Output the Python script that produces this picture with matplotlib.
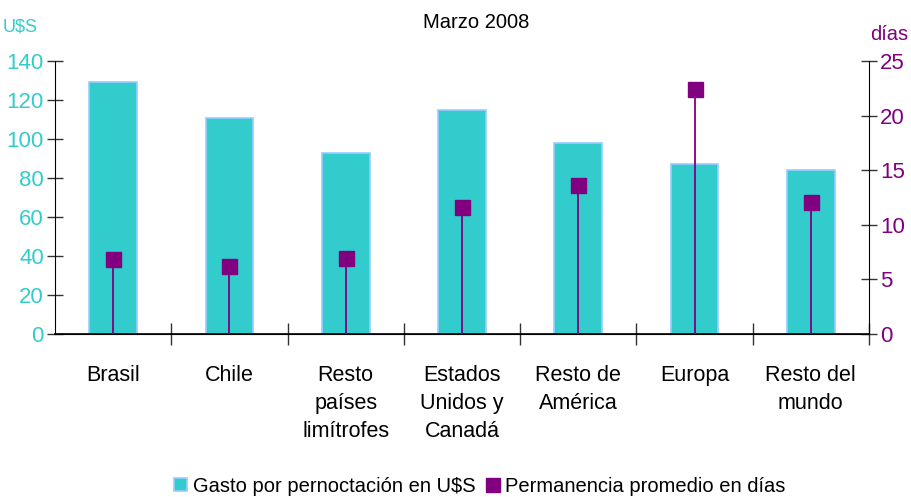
import matplotlib.pyplot as plt
import numpy as np

plt.rcParams['font.family'] = ['Liberation Sans', 'DejaVu Sans']

categorias = ["Brasil", "Chile", "Resto\npaíses\nlimítrofes", "Estados\nUnidos y\nCanadá",
              "Resto de\nAmérica", "Europa", "Resto del\nmundo"]
gasto = [129.4, 110.8, 93.0, 114.7, 98.1, 87.2, 84.1]
dias = [6.9, 6.2, 7.0, 11.6, 13.6, 22.4, 12.1]

cyan = "#33CCCC"
purple = "#800080"

fig = plt.figure(figsize=(9.11, 4.97), dpi=100)
ax = fig.add_axes([55 / 911, 1 - 334 / 497, 814 / 911, 273 / 497])
ax2 = ax.twinx()

x = np.arange(len(categorias))
ax.bar(x, gasto, width=0.41, color=cyan, edgecolor="#99CCFF", linewidth=1.2,
       label="Gasto por pernoctación en U$S", zorder=2)
ax2.vlines(x, 0, dias, color=purple, linewidth=1.3, zorder=3)
ax2.plot(x, dias, linestyle="none", marker="s", markersize=10.8, color=purple,
         label="Permanencia promedio en días", zorder=4)

ax.set_xlim(-0.5, 6.5)
ax.set_ylim(0, 140)
ax2.set_ylim(0, 25)
ax.set_yticks(range(0, 141, 20))
ax2.set_yticks(range(0, 26, 5))

ax.set_xticks(x + 0.5)
ax.set_xticks(x, minor=True)
ax.set_xticklabels([])
ax.set_xticklabels(categorias, minor=True, fontsize=15.5, linespacing=1.45)
ax.tick_params(axis="x", which="major", direction="inout", length=16, width=1, color="#333333")
ax.tick_params(axis="x", which="minor", length=0, pad=22)

ax.tick_params(axis="y", direction="inout", length=12, width=1, labelsize=16,
               labelcolor=cyan, color="#333333", pad=2)
ax2.tick_params(axis="y", direction="inout", length=12, width=1, labelsize=16,
                labelcolor=purple, color="#333333", pad=2)

for a in (ax, ax2):
    a.spines["top"].set_visible(False)
    a.set_zorder(1)
ax.patch.set_visible(False)
ax.spines["right"].set_visible(False)
ax2.spines["left"].set_visible(False)
ax.spines["bottom"].set_linewidth(1.2)

fig.text(476 / 911, 1 - 22 / 497, "Marzo 2008", ha="center", va="center", fontsize=14.5)
fig.text(20 / 911, 1 - 27 / 497, "U$S", ha="center", va="center", fontsize=13, color=cyan)
fig.text(889 / 911, 1 - 35 / 497, "días", ha="center", va="center", fontsize=14.5, color=purple)

h1, l1 = ax.get_legend_handles_labels()
h2, l2 = ax2.get_legend_handles_labels()
fig.legend(h1 + h2, l1 + l2, loc="center", bbox_to_anchor=(480 / 911, 1 - 486 / 497),
           ncol=2, frameon=False, fontsize=14.5, handlelength=0.65, handleheight=0.65,
           handletextpad=0.3, columnspacing=0.5, markerscale=0.9)

fig.savefig("out.png", dpi=100)
